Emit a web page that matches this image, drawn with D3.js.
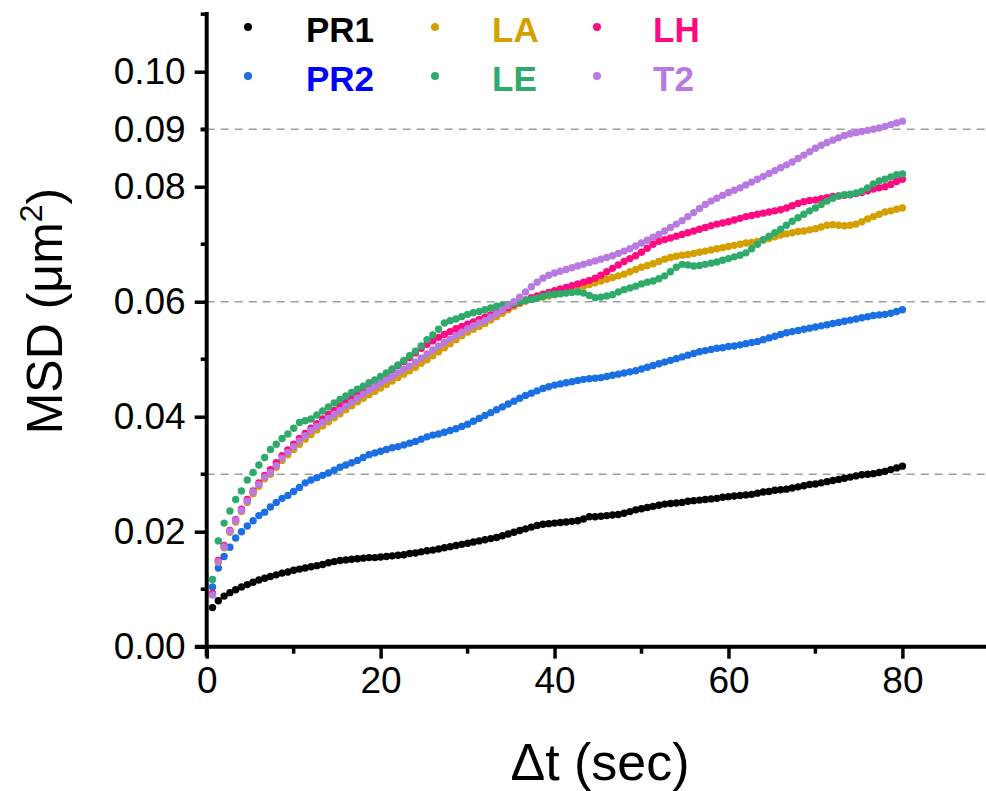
<!DOCTYPE html>
<html>
<head>
<meta charset="utf-8">
<script src="https://d3js.org/d3.v7.min.js"></script>
<style>
    body { margin: 0; background: #fff; }
    svg { display: block; }
    text { font-family: "Liberation Sans", Arial, sans-serif; }
</style>
</head>
<body>
<script>
"use strict";

/* frame interval of the movie (s), one MSD point per lag */
var frameInterval = 2 / 3;

/* MSD values (um^2), one row = 10 s of lag */
var PR1 = [
    .0068,.0080,.0088,.0094,.0099,.0104,.0108,.0112,.0116,.0119,.0122,.0125,.0128,.0130,.0133,
    .0135,.0137,.0139,.0141,.0143,.0146,.0148,.0150,.0151,.0152,.0153,.0154,.0155,.0155,.0156,
    .0157,.0158,.0159,.0160,.0162,.0163,.0165,.0167,.0168,.0170,.0172,.0174,.0176,.0178,.0180,
    .0182,.0184,.0186,.0188,.0190,.0193,.0196,.0199,.0202,.0205,.0208,.0211,.0213,.0214,.0215,
    .0216,.0217,.0218,.0219,.0222,.0226,.0226,.0227,.0228,.0229,.0230,.0232,.0235,.0238,.0240,
    .0242,.0244,.0246,.0248,.0249,.0250,.0251,.0253,.0254,.0255,.0256,.0257,.0258,.0260,.0261,
    .0262,.0263,.0264,.0265,.0267,.0269,.0270,.0272,.0273,.0274,.0276,.0278,.0280,.0282,.0283,
    .0285,.0287,.0289,.0291,.0293,.0295,.0297,.0299,.0300,.0301,.0303,.0305,.0308,.0311,.0314
];
var PR2 = [
    .0104,.0137,.0157,.0173,.0189,.0200,.0210,.0219,.0228,.0234,.0243,.0251,.0258,.0263,.0270,
    .0277,.0285,.0290,.0294,.0298,.0302,.0307,.0312,.0316,.0320,.0324,.0329,.0334,.0337,.0340,
    .0343,.0346,.0348,.0351,.0354,.0357,.0361,.0365,.0368,.0370,.0373,.0376,.0379,.0383,.0387,
    .0392,.0397,.0402,.0407,.0412,.0417,.0422,.0427,.0432,.0437,.0441,.0445,.0449,.0452,.0455,
    .0457,.0459,.0461,.0463,.0465,.0466,.0467,.0468,.0470,.0472,.0474,.0476,.0478,.0480,.0483,
    .0486,.0489,.0492,.0495,.0498,.0501,.0504,.0507,.0510,.0513,.0515,.0517,.0519,.0520,.0522,
    .0523,.0525,.0527,.0529,.0531,.0534,.0537,.0540,.0543,.0546,.0548,.0550,.0552,.0554,.0556,
    .0558,.0560,.0562,.0564,.0566,.0568,.0570,.0572,.0574,.0576,.0577,.0578,.0580,.0583,.0586
];
var LA = [
    .0091,.0147,.0172,.0199,.0217,.0235,.0251,.0266,.0279,.0292,.0300,.0312,.0324,.0334,.0343,
    .0352,.0361,.0369,.0377,.0384,.0391,.0398,.0405,.0412,.0419,.0426,.0432,.0438,.0444,.0450,
    .0456,.0462,.0468,.0474,.0480,.0486,.0493,.0499,.0506,.0513,.0520,.0527,.0534,.0541,.0547,
    .0552,.0557,.0562,.0568,.0574,.0580,.0586,.0592,.0597,.0601,.0604,.0606,.0608,.0610,.0612,
    .0614,.0617,.0620,.0623,.0627,.0630,.0633,.0636,.0639,.0642,.0645,.0648,.0652,.0656,.0660,
    .0663,.0666,.0670,.0674,.0677,.0679,.0681,.0682,.0684,.0686,.0688,.0690,.0692,.0694,.0696,
    .0698,.0700,.0702,.0703,.0705,.0707,.0710,.0713,.0716,.0718,.0720,.0722,.0723,.0725,.0727,
    .0730,.0733,.0734,.0733,.0732,.0733,.0735,.0739,.0744,.0748,.0752,.0756,.0758,.0761,.0763
];
var LH = [
    .0093,.0150,.0176,.0202,.0221,.0239,.0256,.0271,.0285,.0298,.0308,.0320,.0332,.0342,.0352,
    .0362,.0371,.0380,.0388,.0396,.0404,.0411,.0418,.0425,.0432,.0439,.0446,.0453,.0460,.0468,
    .0475,.0482,.0489,.0496,.0503,.0511,.0519,.0526,.0532,.0538,.0543,.0548,.0553,.0557,.0561,
    .0565,.0569,.0573,.0577,.0581,.0585,.0590,.0595,.0599,.0603,.0607,.0610,.0613,.0616,.0619,
    .0622,.0625,.0628,.0631,.0634,.0637,.0641,.0646,.0652,.0658,.0664,.0670,.0675,.0680,.0686,
    .0693,.0700,.0705,.0708,.0711,.0714,.0717,.0720,.0723,.0726,.0729,.0732,.0735,.0737,.0739,
    .0742,.0745,.0748,.0750,.0752,.0754,.0756,.0758,.0760,.0763,.0767,.0771,.0774,.0776,.0777,
    .0779,.0781,.0783,.0784,.0785,.0786,.0788,.0790,.0793,.0796,.0798,.0800,.0804,.0809,.0813
];
var LE = [
    .0117,.0184,.0215,.0236,.0256,.0271,.0290,.0303,.0316,.0329,.0343,.0352,.0362,.0370,.0380,
    .0390,.0393,.0396,.0403,.0410,.0417,.0424,.0430,.0436,.0442,.0448,.0453,.0459,.0464,.0470,
    .0476,.0483,.0490,.0498,.0506,.0514,.0523,.0534,.0542,.0552,.0563,.0567,.0570,.0574,.0578,
    .0581,.0583,.0586,.0589,.0592,.0594,.0595,.0597,.0600,.0602,.0604,.0606,.0609,.0612,.0613,
    .0614,.0615,.0616,.0617,.0615,.0611,.0607,.0608,.0610,.0612,.0617,.0621,.0624,.0627,.0631,
    .0634,.0636,.0640,.0645,.0652,.0660,.0665,.0664,.0662,.0663,.0665,.0667,.0669,.0672,.0675,
    .0678,.0681,.0685,.0692,.0700,.0708,.0714,.0720,.0726,.0733,.0740,.0746,.0752,.0758,.0763,
    .0769,.0775,.0780,.0784,.0786,.0787,.0789,.0792,.0798,.0805,.0810,.0813,.0817,.0821,.0822
];
var T2 = [
    .0090,.0148,.0174,.0201,.0219,.0237,.0253,.0269,.0282,.0295,.0303,.0315,.0328,.0338,.0348,
    .0358,.0367,.0376,.0383,.0390,.0397,.0404,.0411,.0418,.0425,.0432,.0439,.0446,.0452,.0458,
    .0464,.0470,.0476,.0482,.0488,.0495,.0502,.0509,.0516,.0523,.0529,.0535,.0541,.0547,.0553,
    .0558,.0563,.0567,.0573,.0579,.0586,.0593,.0600,.0608,.0617,.0626,.0634,.0641,.0646,.0650,
    .0653,.0656,.0659,.0662,.0665,.0668,.0671,.0674,.0677,.0680,.0684,.0688,.0692,.0697,.0702,
    .0707,.0712,.0717,.0723,.0729,.0735,.0741,.0748,.0755,.0762,.0769,.0775,.0780,.0785,.0790,
    .0794,.0798,.0803,.0808,.0813,.0818,.0823,.0828,.0833,.0838,.0843,.0849,.0855,.0861,.0867,
    .0872,.0877,.0881,.0885,.0889,.0892,.0894,.0896,.0898,.0900,.0902,.0905,.0908,.0911,.0914
];

/* series in drawing order */
var seriesNames = ["PR1", "PR2", "LA", "LH", "LE", "T2"];
var seriesValues = [PR1, PR2, LA, LH, LE, T2];
var dotColors = ["#000000", "#1a6fe3", "#d4a000", "#ff0a80", "#2eab6b", "#b87ae0"];
var textColors = ["#000000", "#0000ff", "#d4a000", "#ff0a80", "#2eab6b", "#b87ae0"];

/* legend layout: two rows, three columns */
var legendOrder = ["PR1", "PR2", "LA", "LE", "LH", "T2"];

var xTicks = [0, 20, 40, 60, 80];
var xMinor = [10, 30, 50, 70];
var yTicks = [0, 0.02, 0.04, 0.06, 0.08, 0.09, 0.10];
var yMinor = [0.01, 0.03, 0.05, 0.07, 0.09, 0.11];
var gridLines = [0.03, 0.06, 0.09];

var width = 986, height = 791;
var fontsize = "37px";

var svg = d3.select("body").append("svg")
    .attr("width", width).attr("height", height);

var x = d3.scaleLinear().domain([0, 89.5]).range([206.7, 985]);
var y = d3.scaleLinear().domain([0, 0.11]).range([646.7, 14.2]);

/* dashed reference lines */
svg.append("g").selectAll("line").data(gridLines).enter().append("line")
    .attr("x1", x(0)).attr("x2", width)
    .attr("y1", function(d){ return y(d); })
    .attr("y2", function(d){ return y(d); })
    .attr("stroke", "#9e9e9e").attr("stroke-width", 1.5)
    .attr("stroke-dasharray", "8,6");

/* data dots */
seriesValues.forEach(function(vals, i){
    svg.append("g").selectAll("circle").data(vals).enter().append("circle")
        .attr("cx", function(d, k){ return x((k + 1) * frameInterval); })
        .attr("cy", function(d){ return y(d); })
        .attr("r", 3.7)
        .attr("fill", dotColors[i]);
});

/* x axis */
var xAxis = svg.append("g").attr("transform", "translate(0," + y(0) + ")");
xAxis.append("line").attr("x1", 195).attr("x2", 986).attr("y1", 0).attr("y2", 0)
    .attr("stroke", "#000").attr("stroke-width", 4);
xAxis.call(d3.axisBottom(x).tickValues(xTicks).tickSize(12).tickPadding(8).tickFormat(d3.format("d")))
    .call(function(g){ g.select(".domain").remove(); });
xAxis.selectAll(".tick line").attr("stroke-width", 3.5);
xAxis.selectAll(".tick text").style("font-size", fontsize).attr("fill", "#000");
xAxis.append("g").selectAll("line").data(xMinor).enter().append("line")
    .attr("x1", function(d){ return x(d); }).attr("x2", function(d){ return x(d); })
    .attr("y1", 0).attr("y2", 7).attr("stroke", "#000").attr("stroke-width", 3.5);

/* y axis */
var yAxis = svg.append("g").attr("transform", "translate(" + x(0) + ",0)");
yAxis.append("line").attr("x1", 0).attr("x2", 0).attr("y1", 12).attr("y2", y(0) + 10)
    .attr("stroke", "#000").attr("stroke-width", 4);
yAxis.call(d3.axisLeft(y).tickValues(yTicks).tickSize(12).tickPadding(9).tickFormat(d3.format(".2f")))
    .call(function(g){ g.select(".domain").remove(); });
yAxis.selectAll(".tick line").attr("stroke-width", 3.5)
    .attr("x2", function(d){ return yMinor.indexOf(d) >= 0 ? -6 : -12; });
yAxis.selectAll(".tick text").style("font-size", fontsize).attr("fill", "#000");
yAxis.append("g").selectAll("line").data(yMinor).enter().append("line")
    .attr("x1", -6).attr("x2", 0)
    .attr("y1", function(d){ return y(d); }).attr("y2", function(d){ return y(d); })
    .attr("stroke", "#000").attr("stroke-width", 3.5);

/* axis titles */
svg.append("text")
    .attr("x", 600).attr("y", 780)
    .attr("text-anchor", "middle")
    .style("font-size", "52px")
    .text("\u0394t (sec)");

var yTitle = svg.append("text")
    .attr("transform", "translate(62,311) rotate(-90)")
    .attr("text-anchor", "middle")
    .style("font-size", "50px");
yTitle.append("tspan").text("MSD (\u03bcm");
yTitle.append("tspan").attr("dy", -20).style("font-size", "32px").text("2");
yTitle.append("tspan").attr("dy", 20).text(")");

/* legend */
var legendX = [248, 435, 597];
var legendTextX = [306, 492, 653];
var legendY = [27, 76];
legendOrder.forEach(function(name, j){
    var i = seriesNames.indexOf(name);
    var col = Math.floor(j / 2), row = j % 2;
    svg.append("circle")
        .attr("cx", legendX[col]).attr("cy", legendY[row])
        .attr("r", 4).attr("fill", dotColors[i]);
    svg.append("text")
        .attr("x", legendTextX[col]).attr("y", legendY[row] + 15)
        .style("font-size", "35px").style("font-weight", "bold")
        .attr("fill", textColors[i])
        .text(name);
});
</script>
</body>
</html>
